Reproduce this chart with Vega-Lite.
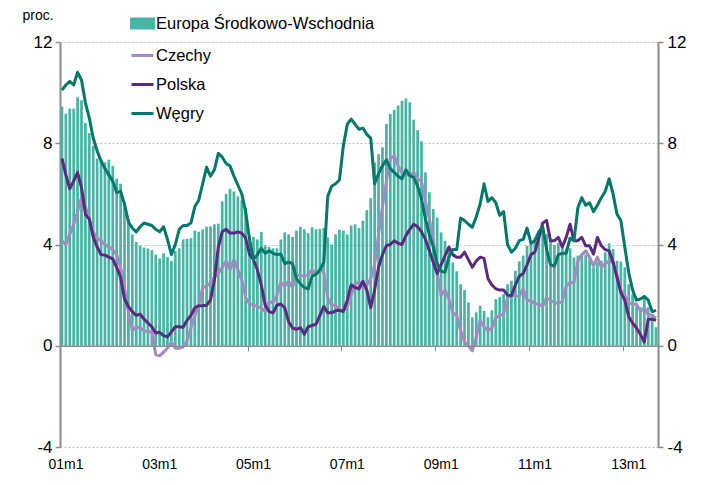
{
"$schema": "https://vega.github.io/schema/vega-lite/v6.json",
"width": 598, "height": 405,
"autosize": {"type": "none"},
"padding": {"left": 60, "top": 42, "right": 43, "bottom": 38},
"background": "white",
"config": {"view": {"stroke": null}, "font": "Liberation Sans",
"legend": {"title": null, "orient": "none", "legendX": 70, "legendY": -31, "direction": "vertical", "padding": 0, "symbolSize": 484, "symbolStrokeWidth": 3, "labelFont": "Liberation Sans", "labelFontSize": 16.5, "labelColor": "#000", "labelOffset": 1, "rowPadding": 8, "labelLimit": 400}},
"data": {"values": [
{"m":"01m1","ESW":9.45,"Czechy":4.15,"Polska":7.4,"Węgry":10.1},
{"m":"01m2","ESW":9.17,"Czechy":4.0,"Polska":6.75,"Węgry":10.3},
{"m":"01m3","ESW":9.37,"Czechy":4.4,"Polska":6.2,"Węgry":10.45},
{"m":"01m4","ESW":9.37,"Czechy":4.8,"Polska":6.5,"Węgry":10.3},
{"m":"01m5","ESW":9.82,"Czechy":5.3,"Polska":6.85,"Węgry":10.8},
{"m":"01m6","ESW":9.7,"Czechy":5.85,"Polska":6.25,"Węgry":10.5},
{"m":"01m7","ESW":8.8,"Czechy":5.5,"Polska":5.2,"Węgry":9.6},
{"m":"01m8","ESW":8.4,"Czechy":5.0,"Polska":5.0,"Węgry":9.0},
{"m":"01m9","ESW":7.9,"Czechy":4.5,"Polska":4.3,"Węgry":8.2},
{"m":"01m10","ESW":7.4,"Czechy":4.25,"Polska":3.9,"Węgry":7.7},
{"m":"01m11","ESW":7.3,"Czechy":4.15,"Polska":3.6,"Węgry":7.3},
{"m":"01m12","ESW":7.25,"Czechy":4.0,"Polska":3.58,"Węgry":7.0},
{"m":"02m1","ESW":7.35,"Czechy":3.9,"Polska":3.5,"Węgry":6.75},
{"m":"02m2","ESW":7.1,"Czechy":3.8,"Polska":3.43,"Węgry":6.5},
{"m":"02m3","ESW":6.6,"Czechy":3.6,"Polska":3.1,"Węgry":6.05},
{"m":"02m4","ESW":6.4,"Czechy":3.1,"Polska":2.7,"Węgry":6.1},
{"m":"02m5","ESW":5.6,"Czechy":2.3,"Polska":1.85,"Węgry":5.6},
{"m":"02m6","ESW":5.0,"Czechy":1.3,"Polska":1.55,"Węgry":4.9},
{"m":"02m7","ESW":4.4,"Czechy":0.6,"Polska":1.35,"Węgry":4.65},
{"m":"02m8","ESW":4.1,"Czechy":0.75,"Polska":1.2,"Węgry":4.5},
{"m":"02m9","ESW":3.95,"Czechy":0.7,"Polska":1.25,"Węgry":4.7},
{"m":"02m10","ESW":3.88,"Czechy":0.6,"Polska":1.05,"Węgry":4.85},
{"m":"02m11","ESW":3.84,"Czechy":0.55,"Polska":0.9,"Węgry":4.8},
{"m":"02m12","ESW":3.78,"Czechy":0.55,"Polska":0.75,"Węgry":4.75},
{"m":"03m1","ESW":3.6,"Czechy":-0.35,"Polska":0.5,"Węgry":4.6},
{"m":"03m2","ESW":3.45,"Czechy":-0.4,"Polska":0.53,"Węgry":4.5},
{"m":"03m3","ESW":3.65,"Czechy":-0.25,"Polska":0.4,"Węgry":4.7},
{"m":"03m4","ESW":3.5,"Czechy":-0.1,"Polska":0.35,"Węgry":4.2},
{"m":"03m5","ESW":3.35,"Czechy":0.15,"Polska":0.55,"Węgry":3.6},
{"m":"03m6","ESW":3.75,"Czechy":-0.1,"Polska":0.75,"Węgry":4.0},
{"m":"03m7","ESW":3.85,"Czechy":-0.1,"Polska":0.75,"Węgry":4.6},
{"m":"03m8","ESW":4.2,"Czechy":-0.05,"Polska":0.73,"Węgry":4.75},
{"m":"03m9","ESW":4.22,"Czechy":0.2,"Polska":1.0,"Węgry":4.75},
{"m":"03m10","ESW":4.25,"Czechy":0.7,"Polska":1.2,"Węgry":4.85},
{"m":"03m11","ESW":4.55,"Czechy":1.2,"Polska":1.5,"Węgry":5.5},
{"m":"03m12","ESW":4.5,"Czechy":1.6,"Polska":1.58,"Węgry":5.75},
{"m":"04m1","ESW":4.6,"Czechy":2.3,"Polska":1.58,"Węgry":6.4},
{"m":"04m2","ESW":4.7,"Czechy":2.35,"Polska":1.6,"Węgry":7.05},
{"m":"04m3","ESW":4.72,"Czechy":2.5,"Polska":1.8,"Węgry":6.7},
{"m":"04m4","ESW":4.8,"Czechy":2.7,"Polska":2.6,"Węgry":6.95},
{"m":"04m5","ESW":4.82,"Czechy":2.85,"Polska":3.9,"Węgry":7.6},
{"m":"04m6","ESW":5.7,"Czechy":3.1,"Polska":4.5,"Węgry":7.45},
{"m":"04m7","ESW":6.0,"Czechy":3.35,"Polska":4.6,"Węgry":7.2},
{"m":"04m8","ESW":6.2,"Czechy":3.0,"Polska":4.45,"Węgry":7.1},
{"m":"04m9","ESW":6.1,"Czechy":3.4,"Polska":4.45,"Węgry":6.7},
{"m":"04m10","ESW":5.9,"Czechy":3.0,"Polska":4.5,"Węgry":6.35},
{"m":"04m11","ESW":5.75,"Czechy":2.6,"Polska":4.45,"Węgry":6.0},
{"m":"04m12","ESW":5.45,"Czechy":1.9,"Polska":4.25,"Węgry":5.3},
{"m":"05m1","ESW":4.35,"Czechy":1.65,"Polska":3.6,"Węgry":4.2},
{"m":"05m2","ESW":4.3,"Czechy":1.6,"Polska":3.4,"Węgry":3.4},
{"m":"05m3","ESW":4.2,"Czechy":1.55,"Polska":3.0,"Węgry":3.6},
{"m":"05m4","ESW":4.5,"Czechy":1.5,"Polska":2.4,"Węgry":3.85},
{"m":"05m5","ESW":3.95,"Czechy":1.35,"Polska":1.6,"Węgry":3.65},
{"m":"05m6","ESW":3.9,"Czechy":1.75,"Polska":1.35,"Węgry":3.75},
{"m":"05m7","ESW":3.85,"Czechy":1.7,"Polska":1.3,"Węgry":3.65},
{"m":"05m8","ESW":3.85,"Czechy":2.0,"Polska":1.6,"Węgry":3.6},
{"m":"05m9","ESW":4.2,"Czechy":2.5,"Polska":1.65,"Węgry":3.62},
{"m":"05m10","ESW":4.48,"Czechy":2.35,"Polska":1.5,"Węgry":3.25},
{"m":"05m11","ESW":4.4,"Czechy":2.55,"Polska":0.95,"Węgry":3.3},
{"m":"05m12","ESW":4.3,"Czechy":2.3,"Polska":0.7,"Węgry":3.25},
{"m":"06m1","ESW":4.55,"Czechy":2.8,"Polska":0.65,"Węgry":2.65},
{"m":"06m2","ESW":4.7,"Czechy":2.78,"Polska":0.72,"Węgry":2.45},
{"m":"06m3","ESW":4.6,"Czechy":2.75,"Polska":0.45,"Węgry":2.3},
{"m":"06m4","ESW":4.45,"Czechy":2.8,"Polska":0.75,"Węgry":2.25},
{"m":"06m5","ESW":4.68,"Czechy":3.0,"Polska":0.8,"Węgry":2.75},
{"m":"06m6","ESW":4.6,"Czechy":2.85,"Polska":0.85,"Węgry":2.82},
{"m":"06m7","ESW":4.62,"Czechy":3.0,"Polska":1.2,"Węgry":3.0},
{"m":"06m8","ESW":4.65,"Czechy":2.9,"Polska":1.55,"Węgry":3.3},
{"m":"06m9","ESW":4.28,"Czechy":1.9,"Polska":1.3,"Węgry":5.9},
{"m":"06m10","ESW":4.0,"Czechy":1.6,"Polska":1.3,"Węgry":6.3},
{"m":"06m11","ESW":4.4,"Czechy":1.6,"Polska":1.38,"Węgry":6.4},
{"m":"06m12","ESW":4.58,"Czechy":1.4,"Polska":1.4,"Węgry":6.55},
{"m":"07m1","ESW":4.55,"Czechy":1.4,"Polska":1.35,"Węgry":7.9},
{"m":"07m2","ESW":4.4,"Czechy":1.55,"Polska":1.8,"Węgry":8.75},
{"m":"07m3","ESW":4.75,"Czechy":2.0,"Polska":2.4,"Węgry":8.95},
{"m":"07m4","ESW":4.8,"Czechy":2.45,"Polska":2.3,"Węgry":8.75},
{"m":"07m5","ESW":4.65,"Czechy":2.5,"Polska":2.25,"Węgry":8.55},
{"m":"07m6","ESW":4.94,"Czechy":2.3,"Polska":2.55,"Węgry":8.6},
{"m":"07m7","ESW":5.36,"Czechy":2.4,"Polska":2.2,"Węgry":8.35},
{"m":"07m8","ESW":5.83,"Czechy":2.65,"Polska":1.5,"Węgry":8.2},
{"m":"07m9","ESW":7.24,"Czechy":3.2,"Polska":2.2,"Węgry":6.4},
{"m":"07m10","ESW":7.57,"Czechy":4.4,"Polska":3.1,"Węgry":6.8},
{"m":"07m11","ESW":7.84,"Czechy":5.5,"Polska":3.6,"Węgry":7.1},
{"m":"07m12","ESW":8.76,"Czechy":6.5,"Polska":3.95,"Węgry":7.35},
{"m":"08m1","ESW":9.16,"Czechy":7.4,"Polska":4.0,"Węgry":7.0},
{"m":"08m2","ESW":9.32,"Czechy":7.5,"Polska":4.15,"Węgry":6.85},
{"m":"08m3","ESW":9.49,"Czechy":7.1,"Polska":4.05,"Węgry":6.7},
{"m":"08m4","ESW":9.68,"Czechy":6.85,"Polska":4.0,"Węgry":6.6},
{"m":"08m5","ESW":9.77,"Czechy":6.78,"Polska":4.35,"Węgry":6.95},
{"m":"08m6","ESW":9.62,"Czechy":6.72,"Polska":4.6,"Węgry":6.72},
{"m":"08m7","ESW":8.93,"Czechy":6.85,"Polska":4.8,"Węgry":6.65},
{"m":"08m8","ESW":8.52,"Czechy":6.6,"Polska":4.7,"Węgry":6.3},
{"m":"08m9","ESW":8.08,"Czechy":6.5,"Polska":4.5,"Węgry":5.8},
{"m":"08m10","ESW":6.85,"Czechy":5.7,"Polska":4.2,"Węgry":5.0},
{"m":"08m11","ESW":6.06,"Czechy":5.0,"Polska":3.75,"Węgry":4.4},
{"m":"08m12","ESW":5.4,"Czechy":4.2,"Polska":3.3,"Węgry":3.9},
{"m":"09m1","ESW":5.07,"Czechy":2.9,"Polska":2.85,"Węgry":3.25},
{"m":"09m2","ESW":4.48,"Czechy":2.0,"Polska":3.2,"Węgry":2.95},
{"m":"09m3","ESW":4.15,"Czechy":2.2,"Polska":3.55,"Węgry":2.9},
{"m":"09m4","ESW":3.82,"Czechy":1.85,"Polska":3.9,"Węgry":3.5},
{"m":"09m5","ESW":3.29,"Czechy":1.3,"Polska":3.6,"Węgry":3.8},
{"m":"09m6","ESW":2.94,"Czechy":1.2,"Polska":3.5,"Węgry":3.8},
{"m":"09m7","ESW":2.43,"Czechy":0.6,"Polska":3.5,"Węgry":5.05},
{"m":"09m8","ESW":2.2,"Czechy":0.15,"Polska":3.7,"Węgry":4.95},
{"m":"09m9","ESW":1.71,"Czechy":0.0,"Polska":3.4,"Węgry":4.8},
{"m":"09m10","ESW":1.12,"Czechy":-0.2,"Polska":3.1,"Węgry":4.68},
{"m":"09m11","ESW":1.32,"Czechy":0.35,"Polska":3.35,"Węgry":5.1},
{"m":"09m12","ESW":1.58,"Czechy":1.0,"Polska":3.5,"Węgry":5.6},
{"m":"10m1","ESW":1.38,"Czechy":0.75,"Polska":3.45,"Węgry":6.4},
{"m":"10m2","ESW":1.12,"Czechy":0.6,"Polska":2.65,"Węgry":5.7},
{"m":"10m3","ESW":1.4,"Czechy":0.7,"Polska":2.4,"Węgry":5.85},
{"m":"10m4","ESW":1.84,"Czechy":1.1,"Polska":2.25,"Węgry":5.65},
{"m":"10m5","ESW":1.92,"Czechy":1.2,"Polska":2.2,"Węgry":5.15},
{"m":"10m6","ESW":2.04,"Czechy":1.25,"Polska":2.2,"Węgry":5.3},
{"m":"10m7","ESW":2.43,"Czechy":1.9,"Polska":2.0,"Węgry":4.0},
{"m":"10m8","ESW":2.57,"Czechy":1.98,"Polska":1.98,"Węgry":3.7},
{"m":"10m9","ESW":2.96,"Czechy":1.98,"Polska":2.4,"Węgry":3.85},
{"m":"10m10","ESW":3.33,"Czechy":1.95,"Polska":2.75,"Węgry":4.15},
{"m":"10m11","ESW":3.56,"Czechy":2.25,"Polska":2.85,"Węgry":4.2},
{"m":"10m12","ESW":3.95,"Czechy":1.8,"Polska":3.2,"Węgry":4.65},
{"m":"11m1","ESW":4.02,"Czechy":1.78,"Polska":3.6,"Węgry":4.05},
{"m":"11m2","ESW":4.28,"Czechy":1.65,"Polska":3.7,"Węgry":4.15},
{"m":"11m3","ESW":4.48,"Czechy":1.65,"Polska":4.25,"Węgry":4.5},
{"m":"11m4","ESW":4.68,"Czechy":1.55,"Polska":4.85,"Węgry":4.7},
{"m":"11m5","ESW":4.41,"Czechy":1.9,"Polska":4.95,"Węgry":3.8},
{"m":"11m6","ESW":4.15,"Czechy":1.8,"Polska":4.15,"Węgry":3.2},
{"m":"11m7","ESW":3.98,"Czechy":1.7,"Polska":4.15,"Węgry":3.15},
{"m":"11m8","ESW":4.05,"Czechy":1.68,"Polska":4.28,"Węgry":3.6},
{"m":"11m9","ESW":4.08,"Czechy":1.75,"Polska":3.9,"Węgry":3.65},
{"m":"11m10","ESW":3.82,"Czechy":2.35,"Polska":4.28,"Węgry":3.65},
{"m":"11m11","ESW":3.85,"Czechy":2.5,"Polska":4.8,"Węgry":4.25},
{"m":"11m12","ESW":3.49,"Czechy":2.5,"Polska":4.15,"Węgry":4.15},
{"m":"12m1","ESW":3.56,"Czechy":3.35,"Polska":4.15,"Węgry":5.45},
{"m":"12m2","ESW":3.62,"Czechy":3.6,"Polska":4.28,"Węgry":5.85},
{"m":"12m3","ESW":3.6,"Czechy":3.75,"Polska":3.95,"Węgry":5.55},
{"m":"12m4","ESW":3.49,"Czechy":3.5,"Polska":3.95,"Węgry":5.65},
{"m":"12m5","ESW":3.1,"Czechy":3.15,"Polska":3.62,"Węgry":5.3},
{"m":"12m6","ESW":3.29,"Czechy":3.5,"Polska":4.28,"Węgry":5.55},
{"m":"12m7","ESW":3.36,"Czechy":3.1,"Polska":3.95,"Węgry":5.85},
{"m":"12m8","ESW":3.69,"Czechy":3.25,"Polska":3.8,"Węgry":6.1},
{"m":"12m9","ESW":4.05,"Czechy":3.35,"Polska":3.75,"Węgry":6.6},
{"m":"12m10","ESW":3.82,"Czechy":3.3,"Polska":3.3,"Węgry":6.0},
{"m":"12m11","ESW":3.36,"Czechy":2.8,"Polska":2.7,"Węgry":5.2},
{"m":"12m12","ESW":3.33,"Czechy":2.2,"Polska":2.1,"Węgry":4.95},
{"m":"13m1","ESW":3.1,"Czechy":2.0,"Polska":1.8,"Węgry":3.9},
{"m":"13m2","ESW":2.43,"Czechy":1.7,"Polska":1.15,"Węgry":2.9},
{"m":"13m3","ESW":2.04,"Czechy":1.65,"Polska":0.9,"Węgry":2.2},
{"m":"13m4","ESW":1.65,"Czechy":1.65,"Polska":0.7,"Węgry":1.8},
{"m":"13m5","ESW":1.52,"Czechy":1.35,"Polska":0.45,"Węgry":1.85},
{"m":"13m6","ESW":1.92,"Czechy":1.5,"Polska":0.15,"Węgry":1.95},
{"m":"13m7","ESW":1.52,"Czechy":1.25,"Polska":1.05,"Węgry":1.8},
{"m":"13m8","ESW":1.25,"Czechy":1.2,"Polska":1.05,"Węgry":1.35},
{"m":"13m9","ESW":0.73,"Czechy":1.1,"Polska":1.0,"Węgry":1.4}
]},
"layer": [
{
"mark": {"type": "bar"},
"encoding": {
"x": {"field": "m", "type": "ordinal", "sort": null,
"scale": {"paddingInner": 0.3, "paddingOuter": 0.15},
"axis": {"orient": "bottom", "values": ["01m1","03m1","05m1","07m1","09m1","11m1","13m1"], "bandPosition": 0, "labelOffset": 4, "labelAngle": 0, "domain": false, "ticks": false, "grid": false, "labelPadding": 10, "labelFont": "Liberation Sans", "labelFontSize": 14, "labelColor": "#000", "title": null}},
"y": {"field": "ESW", "type": "quantitative",
"scale": {"domain": [-4, 12], "nice": false, "zero": false},
"axis": {"orient": "left", "values": [-4, 0, 4, 8, 12], "labelExpr": "'' + datum.value", "grid": true, "gridDash": [2, 2], "gridColor": "#bdbdbd", "gridWidth": 1, "domainColor": "#8c8c8c", "domainWidth": 2, "tickColor": "#8c8c8c", "tickSize": 5, "tickWidth": 1.5, "labelFont": "Liberation Sans", "labelFontSize": 17, "labelColor": "#000", "labelPadding": 3, "title": "proc.", "titleAngle": 0, "titleX": -38, "titleY": -27, "titleAlign": "left", "titleBaseline": "middle", "titleFont": "Liberation Sans", "titleFontSize": 14, "titleFontWeight": "normal", "titleColor": "#000", "zindex": 0}},
"color": {"datum": "Europa Środkowo-Wschodnia", "type": "nominal",
"scale": {"domain": ["Europa Środkowo-Wschodnia", "Czechy", "Polska", "Węgry"], "range": ["#48B4A3", "#A08CC2", "#5B2A80", "#00786A"]},
"legend": {"title": null, "labelLimit": 400,
"encode": {"symbols": {"update": {
"shape": {"signal": "datum.value === 'Europa Środkowo-Wschodnia' ? 'M-1,-0.42H1V0.42H-1Z' : 'M-1,0H1'"},
"fill": {"signal": "datum.value === 'Europa Środkowo-Wschodnia' ? '#48B4A3' : 'transparent'"},
"stroke": {"signal": "datum.value === 'Europa Środkowo-Wschodnia' ? 'transparent' : (datum.value === 'Czechy' ? '#A08CC2' : (datum.value === 'Polska' ? '#5B2A80' : '#00786A'))"},
"strokeWidth": {"value": 3},
"opacity": {"value": 1}
}}}}}
}
},
{
"transform": [{"fold": ["Czechy", "Polska", "Węgry"], "as": ["series", "value"]}],
"mark": {"type": "line", "strokeWidth": 3, "strokeJoin": "round"},
"encoding": {
"x": {"field": "m", "type": "ordinal", "sort": null,
"axis": {"orient": "top", "offset": -303.75, "values": ["01m1","03m1","05m1","07m1","09m1","11m1","13m1"], "bandPosition": 0, "labels": false, "grid": false, "domain": true, "domainColor": "#8c8c8c", "domainWidth": 1.5, "ticks": true, "tickColor": "#8c8c8c", "tickSize": -5, "tickWidth": 1, "title": null, "zindex": 1}},
"y": {"field": "value", "type": "quantitative",
"scale": {"domain": [-4, 12], "nice": false, "zero": false},
"axis": {"orient": "right", "values": [-4, 0, 4, 8, 12], "labelExpr": "'' + datum.value", "grid": false, "domainColor": "#8c8c8c", "domainWidth": 2, "tickColor": "#8c8c8c", "tickSize": 5, "tickWidth": 1.5, "labelFont": "Liberation Sans", "labelFontSize": 17, "labelColor": "#000", "labelPadding": 4, "title": null}},
"color": {"field": "series", "type": "nominal",
"scale": {"domain": ["Europa Środkowo-Wschodnia", "Czechy", "Polska", "Węgry"], "range": ["#48B4A3", "#A08CC2", "#5B2A80", "#00786A"]},
"legend": {"title": null, "labelLimit": 400,
"encode": {"symbols": {"update": {
"shape": {"signal": "datum.value === 'Europa Środkowo-Wschodnia' ? 'M-1,-0.42H1V0.42H-1Z' : 'M-1,0H1'"},
"fill": {"signal": "datum.value === 'Europa Środkowo-Wschodnia' ? '#48B4A3' : 'transparent'"},
"stroke": {"signal": "datum.value === 'Europa Środkowo-Wschodnia' ? 'transparent' : (datum.value === 'Czechy' ? '#A08CC2' : (datum.value === 'Polska' ? '#5B2A80' : '#00786A'))"},
"strokeWidth": {"value": 3},
"opacity": {"value": 1}
}}}}}
}
}
],
"resolve": {"axis": {"x": "independent", "y": "independent"}}
}
